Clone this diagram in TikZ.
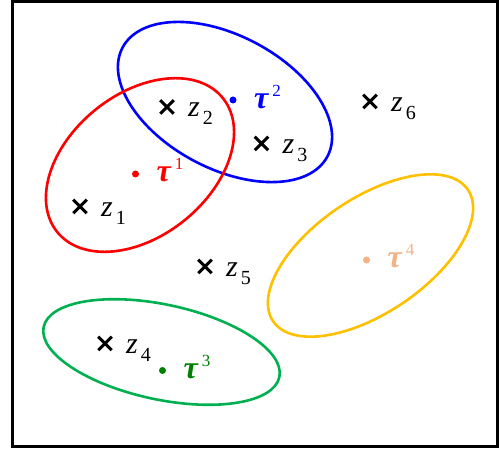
\documentclass[tikz,border=0pt]{standalone}
\usepackage{fontspec}
\setmainfont{Liberation Serif}
\usetikzlibrary{shapes.geometric,shapes.misc}
\definecolor{setred}{RGB}{255,0,0}
\definecolor{setblue}{RGB}{0,0,255}
\definecolor{setgreen}{RGB}{0,176,80}
\definecolor{setyellow}{RGB}{255,192,0}
\definecolor{darkgreen}{RGB}{0,128,0}
\definecolor{peach}{RGB}{244,177,131}
\tikzset{
  cluster/.style={ellipse, draw=#1, line width=2.6pt, inner sep=0pt},
  zmark/.style={cross out, draw=black, line width=3pt, minimum size=10.5pt, inner sep=0pt},
  tmark/.style={circle, fill=#1, inner sep=0pt, minimum size=7pt},
  zlab/.style={anchor=base west, inner sep=0pt, font=\fontsize{30}{32}\selectfont},
  tlab/.style={anchor=base west, inner sep=0pt, text=#1, font=\fontsize{32}{34}\selectfont\bfseries\itshape}
}
\newcommand{\zpt}[1]{\textit{z}\kern3pt\raisebox{-8pt}{\fontsize{20}{20}\selectfont #1}}
\newcommand{\tpt}[1]{τ\kern4pt\raisebox{12pt}{\fontsize{17}{17}\selectfont\mdseries\upshape #1}}
\begin{document}
\begin{tikzpicture}[x=1pt, y=-1pt]
  \useasboundingbox (0,0) rectangle (499,449);
  \draw[line width=3pt] (12.5,1.5) rectangle (497.5,446.5);
  % clusters
  \node[cluster=setblue, minimum width=232pt, minimum height=133pt, rotate=-28] (c2) at (225,102) {};
  \node[cluster=setred, minimum width=213pt, minimum height=142pt, rotate=39] (c1) at (140,165) {};
  \node[cluster=setgreen, minimum width=241pt, minimum height=95pt, rotate=-12] (c3) at (161.5,352) {};
  \node[cluster=setyellow, minimum width=235pt, minimum height=115pt, rotate=34] (c4) at (370.5,255.5) {};
  % data points
  \node[zmark] (z1) at (80,206.5) {};
  \node[zmark] (z2) at (167,107) {};
  \node[zmark] (z3) at (261.5,143.5) {};
  \node[zmark] (z4) at (105,343.5) {};
  \node[zmark] (z5) at (205,266.5) {};
  \node[zmark] (z6) at (370,101.5) {};
  \node[zlab] (lz1) at ([xshift=21pt,yshift=-10pt]z1.center) {\zpt{1}};
  \node[zlab] (lz2) at ([xshift=21pt,yshift=-10pt]z2.center) {\zpt{2}};
  \node[zlab] (lz3) at ([xshift=21pt,yshift=-10pt]z3.center) {\zpt{3}};
  \node[zlab] (lz4) at ([xshift=21pt,yshift=-10pt]z4.center) {\zpt{4}};
  \node[zlab] (lz5) at ([xshift=21pt,yshift=-10pt]z5.center) {\zpt{5}};
  \node[zlab] (lz6) at ([xshift=21pt,yshift=-10pt]z6.center) {\zpt{6}};
  % centres
  \node[tmark=setred] (t1) at (135.5,174) {};
  \node[tmark=setblue] (t2) at (233,100) {};
  \node[tmark=darkgreen] (t3) at (162.5,370.5) {};
  \node[tmark=peach] (t4) at (366.5,260) {};
  \node[tlab=setred] (lt1) at ([xshift=21pt,yshift=-8pt]t1.center) {\tpt{1}};
  \node[tlab=setblue] (lt2) at ([xshift=21pt,yshift=-9pt]t2.center) {\tpt{2}};
  \node[tlab=darkgreen] (lt3) at ([xshift=21pt,yshift=-8pt]t3.center) {\tpt{3}};
  \node[tlab=peach] (lt4) at ([xshift=21pt,yshift=-8pt]t4.center) {\tpt{4}};
\end{tikzpicture}
\end{document}
